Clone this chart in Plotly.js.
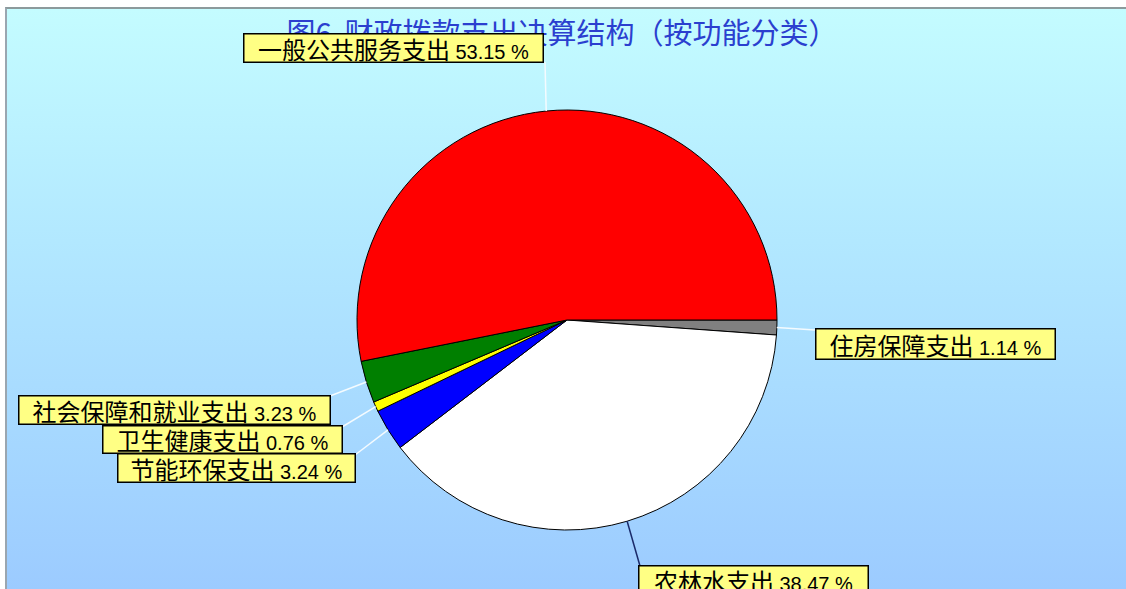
<!DOCTYPE html>
<html>
<head>
<meta charset="utf-8">
<script src="https://cdn.plot.ly/plotly-3.0.1.min.js"></script>
<style>
  html, body { margin:0; padding:0; background:#ffffff; }
  #wrap { position:relative; width:1126px; height:589px; overflow:hidden; }
  #bg { position:absolute; left:5px; top:7px; right:0; bottom:0;
        border-top:2px solid #8c9a9c; border-left:2px solid #9aa6b0;
        background:linear-gradient(to bottom, #c4fcff 0%, #b2e8ff 40%, #9ccbff 100%); }
  #chart { position:absolute; left:0; top:0; width:1126px; height:589px; }
</style>
</head>
<body>
<div id="wrap"><div id="bg"></div><div id="chart"></div></div>
<script>
// ---- data ----
const categories = ['一般公共服务支出','社会保障和就业支出','卫生健康支出','节能环保支出','农林水支出','住房保障支出'];
const shares = [53.15, 3.23, 0.76, 3.24, 38.47, 1.14];
const shareLabels = ['53.15 %','3.23 %','0.76 %','3.24 %','38.47 %','1.14 %'];
const sliceColors = ['#ff0000','#007f00','#ffff00','#0000ff','#ffffff','#808080'];
const titleText = '图6&nbsp;&nbsp;财政拨款支出决算结构（按功能分类）';

// ---- layout geometry (pixels) ----
const W = 1126, H = 589;
const cx = 567, cy = 320, R = 210;
const boxes = [
  {l:243, t:33,  w:300, h:29, end:[545,62],  line:'#f4fbff'},
  {l:18,  t:395, w:312, h:29, end:[330,396], line:'#f4fbff'},
  {l:102, t:425, w:240, h:28, end:[342,427], line:'#f4fbff'},
  {l:117, t:453, w:238, h:29, end:[355,455], line:'#f4fbff'},
  {l:638, t:565, w:230, h:30, end:[640,566], line:'#1a2a6a'},
  {l:815, t:328, w:240, h:31, end:[815,330], line:'#f4fbff'}
];
const px = x => x / W;
const py = y => 1 - y / H;

const total = shares.reduce((a,b)=>a+b,0);
let cum = 0;
const shapes = [], annotations = [];
shares.forEach((v,i)=>{
  const mid = (cum + v/2) / total * 2 * Math.PI; // counterclockwise from 3 o'clock
  cum += v;
  const tx = cx + R*Math.cos(mid), ty = cy - R*Math.sin(mid);
  const b = boxes[i];
  shapes.push({type:'line', xref:'paper', yref:'paper',
    x0:px(tx), y0:py(ty), x1:px(b.end[0]), y1:py(b.end[1]),
    line:{color:b.line, width:1.5}});
  annotations.push({xref:'paper', yref:'paper', x:px(b.l), y:py(b.t),
    xanchor:'left', yanchor:'top', showarrow:false,
    width:b.w-2, height:b.h-2, borderpad:0, borderwidth:1.5, bordercolor:'#000000',
    bgcolor:'#ffff84', align:'center', valign:'middle',
    text: categories[i] + ' <span style="font-family:\'Liberation Sans\', Arial, sans-serif;font-size:20px">' + shareLabels[i] + '</span>',
    font:{family:'"Noto Sans CJK SC", "Noto Sans", sans-serif', size:24, color:'#000000'}});
});

// Pie drawn clockwise from 3 o'clock with reversed order = counterclockwise in original order
const trace = {
  type:'pie', values:shares.slice().reverse(), labels:categories.slice().reverse(), sort:false,
  direction:'clockwise', rotation:90,
  marker:{colors:sliceColors.slice().reverse(), line:{color:'#000000', width:1}},
  textinfo:'none', hoverinfo:'label+percent', showlegend:false,
  domain:{x:[px(cx-R), px(cx+R)], y:[py(cy+R), py(cy-R)]}
};

const layout = {
  width:W, height:H, margin:{l:0,r:0,t:0,b:0},
  paper_bgcolor:'rgba(0,0,0,0)', plot_bgcolor:'rgba(0,0,0,0)',
  title:{text:titleText, x:px(562), xanchor:'center', y:py(34), yanchor:'middle', yref:'paper',
    font:{family:'"Noto Sans CJK SC", sans-serif', size:29, color:'#2b3fcf'}},
  shapes:shapes, annotations:annotations, showlegend:false
};
Plotly.newPlot('chart', [trace], layout, {displayModeBar:false, staticPlot:true});
</script>
</body>
</html>
